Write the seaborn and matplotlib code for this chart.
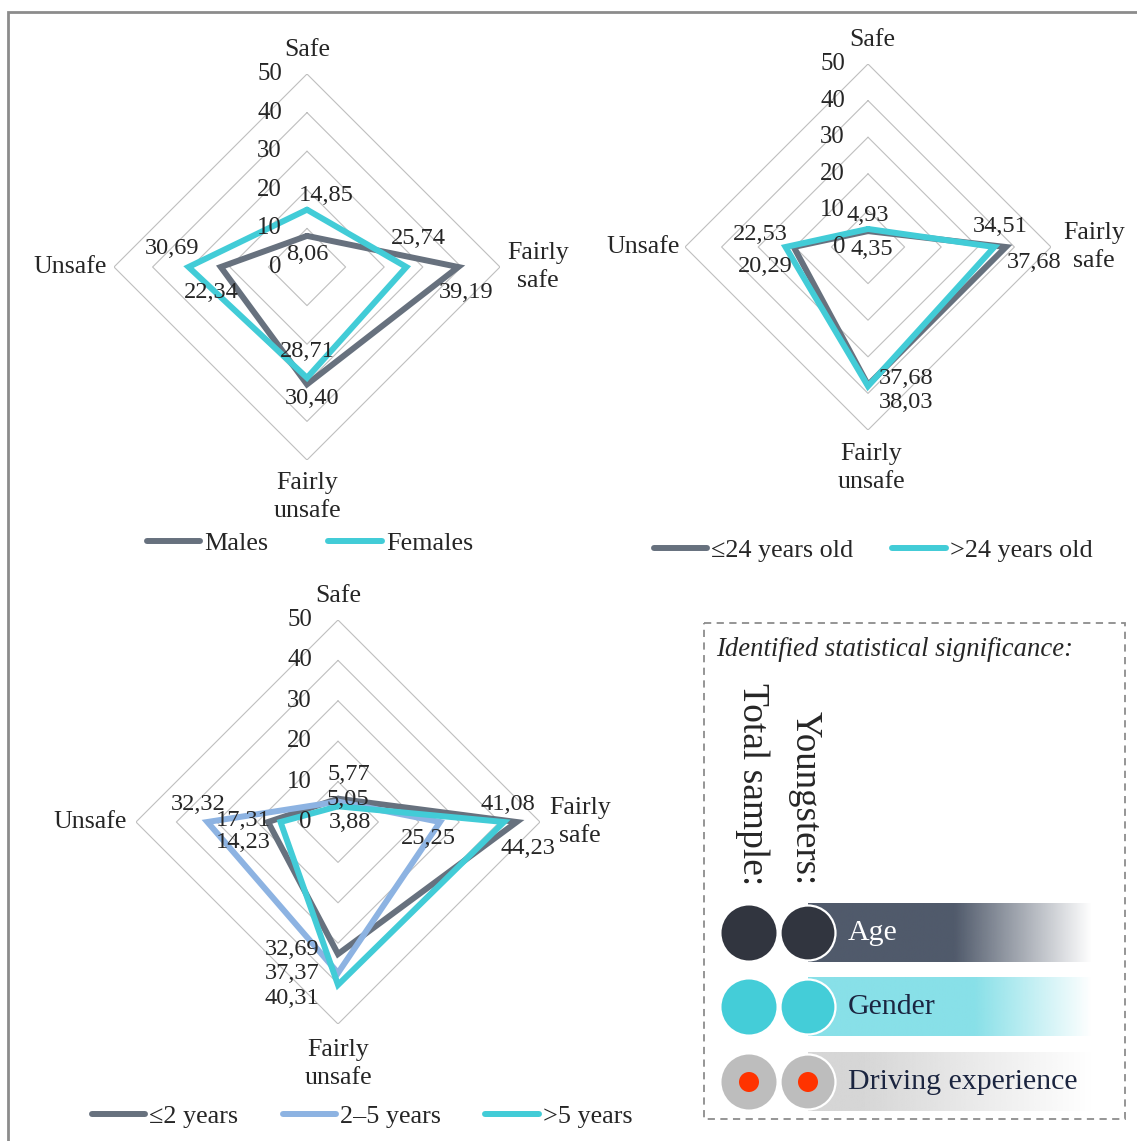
import numpy as np
import pandas as pd
import matplotlib
matplotlib.use('Agg')
import matplotlib.pyplot as plt
import seaborn as sns
from matplotlib.patches import Rectangle, Circle

# ---------------- data ----------------
categories = ['Safe', 'Fairly\nsafe', 'Fairly\nunsafe', 'Unsafe']
ticks = [0, 10, 20, 30, 40, 50]

gender_labels = ['Males', 'Females']
males = [8.06, 39.19, 30.40, 22.34]
females = [14.85, 25.74, 28.71, 30.69]

age_labels = ['≤24 years old', '>24 years old']
age_young = [4.35, 37.68, 37.68, 20.29]
age_old = [4.93, 34.51, 38.03, 22.53]

exp_labels = ['≤2 years', '2–5 years', '>5 years']
exp_short = [5.77, 44.23, 32.69, 17.31]
exp_mid = [5.05, 25.25, 37.37, 32.32]
exp_long = [3.88, 41.08, 40.31, 14.23]

sig_title = 'Identified statistical significance:'
sig_columns = ['Total sample:', 'Youngsters:']
sig_labels = ['Age', 'Gender', 'Driving experience']

# ---------------- style ----------------
GRAY = '#67717E'
CYAN = '#42CCD7'
LBLUE = '#8DB3E2'
W, H = 1137, 1141

sns.set_theme(style='white')
plt.rcParams['font.family'] = ['Liberation Serif', 'DejaVu Serif', 'DejaVu Sans']

fig = plt.figure(figsize=(W / 100, H / 100), dpi=100)
fig.patch.set_facecolor('white')

ANGLES = np.array([np.pi / 2, 0.0, 3 * np.pi / 2, np.pi])


def fmt(v):
    return f'{v:.2f}'.replace('.', ',')


def radar(cx, cy, R, series, names, colors, lab_offsets, cat_offsets,
          tick_dx, leg_xy, colspacing):
    ax = fig.add_axes([(cx - R) / W, 1 - (cy + R) / H, 2 * R / W, 2 * R / H],
                      projection='polar')
    ax.set_ylim(0, 50)
    ax.axis('off')
    theta = np.append(ANGLES, ANGLES[0])
    for t in ticks[1:]:
        ax.plot(theta, [t] * 5, color='#BFBFBF', lw=0.8, zorder=1)
    for t in ticks:
        ax.annotate(str(t), xy=(np.pi / 2, t), xytext=(tick_dx, 0),
                    textcoords='offset pixels', ha='right', va='center',
                    fontsize=17.8, zorder=6)
    for cat, a, (dx, dy) in zip(categories, ANGLES, cat_offsets):
        ax.annotate(cat, xy=(a, 50), xytext=(dx, dy), textcoords='offset pixels',
                    ha='center', va='center', fontsize=18.6, linespacing=1.32)
    for vals, name, col, offs in zip(series, names, colors, lab_offsets):
        df = pd.DataFrame({'theta': theta, 'r': list(vals) + [vals[0]]})
        sns.lineplot(data=df, x='theta', y='r', sort=False, estimator=None, ax=ax,
                     color=col, lw=4.3, label=name, legend=False,
                     solid_joinstyle='miter', solid_capstyle='round', zorder=3)
        for a, v, (dx, dy) in zip(ANGLES, vals, offs):
            ax.annotate(fmt(v), xy=(a, v), xytext=(dx, dy), textcoords='offset pixels',
                        ha='center', va='center', fontsize=17.6, zorder=5)
    ax.axis('off')
    handles, labels = ax.get_legend_handles_labels()
    ax.legend(handles, labels, loc='center',
              bbox_to_anchor=(leg_xy[0] / W, 1 - leg_xy[1] / H),
              bbox_transform=fig.transFigure, ncol=len(labels), frameon=False,
              fontsize=18.8, handlelength=2.05, handletextpad=0.15,
              columnspacing=colspacing, borderpad=0)
    return ax


# Chart 1: gender
radar(307, 267, 193, [males, females], gender_labels, [GRAY, CYAN],
      [[(0, -19), (8, -26), (5, -14), (-9, -25)],
       [(19, 14), (12, 29), (0, 26), (-16, 18)]],
      [(0, 24), (38, 0), (0, -37), (-44, 0)],
      -25, (310, 543), 2.3)

# Chart 2: age
radar(868, 247, 183, [age_young, age_old], age_labels, [GRAY, CYAN],
      [[(4, -18), (28, -16), (38, 6), (-28, -20)],
       [(0, 13), (6, 21), (38, -16), (-25, 13)]],
      [(4, 24), (43, 0), (3, -38), (-42, 0)],
      -23, (873, 550), 1.5)

# Chart 3: driving experience
radar(338, 822, 202, [exp_short, exp_mid, exp_long], exp_labels, [GRAY, LBLUE, CYAN],
      [[(11, 24), (11, -27), (-46, 5), (-25, 2)],
       [(10, 2), (-12, -17), (-46, -1), (-9, 18)],
       [(12, -16), (4, 18), (-46, -14), (-37, -21)]],
      [(0, 24), (40, 0), (0, -40), (-46, 0)],
      -26, (362, 1116), 1.7)

# ---------------- overlay: border and significance box ----------------
ov = fig.add_axes([0, 0, 1, 1], zorder=-1)
ov.set_xlim(0, W)
ov.set_ylim(H, 0)
ov.axis('off')

ov.plot([8, 8, W], [H, 12, 12], color='#8C8C8C', lw=2.0,
        solid_joinstyle='miter', clip_on=False)

ov.add_patch(Rectangle((704, 623), 421, 496, fill=False, ec='#8C8C8C', lw=1.3,
                       ls=(0, (4, 3))))
ov.text(716, 650, sig_title, style='italic', fontsize=19.2, ha='left', va='center')
for x, t, fsz in zip([752, 805], sig_columns, [27, 26.5]):
    ov.text(x, 885, t, rotation=-90, ha='center', va='bottom', fontsize=fsz)

row_y = [933, 1007, 1082]
circle_cols = ['#31353F', '#44CDD8', '#BDBDBD']
bar_cols = ['#505A6B', '#88E0E8', '#D6D6D6']
text_cols = ['white', '#1B2540', '#1B2540']
fade_start = [955, 975, 860]
x0, x1 = 808, 1092
for yc, lab, cc, bc, tc, fs in zip(row_y, sig_labels, circle_cols, bar_cols,
                                   text_cols, fade_start):
    xs = np.linspace(x0, x1, 400)
    alpha = np.clip((x1 - xs) / (x1 - fs), 0, 1)
    rgba = np.zeros((1, len(xs), 4))
    rgba[..., :3] = matplotlib.colors.to_rgb(bc)
    rgba[..., 3] = alpha
    ov.imshow(rgba, extent=(x0, x1, yc + 29.5, yc - 29.5), aspect='auto',
              interpolation='bilinear', zorder=1)
    ov.add_patch(Circle((749, yc), 27.5, fc=cc, ec='none', zorder=2))
    ov.add_patch(Circle((808, yc), 27.5, fc=cc, ec='white', lw=1.6, zorder=3))
    if lab == 'Driving experience':
        for cxp in (749, 808):
            ov.add_patch(Circle((cxp, yc), 10, fc='#FF3300', ec='none', zorder=4))
    ov.text(848, yc, lab, fontsize=21.5, color=tc, ha='left', va='center', zorder=5)
ov.set_xlim(0, W)
ov.set_ylim(H, 0)

fig.savefig('out.png', dpi=100, facecolor='white')
